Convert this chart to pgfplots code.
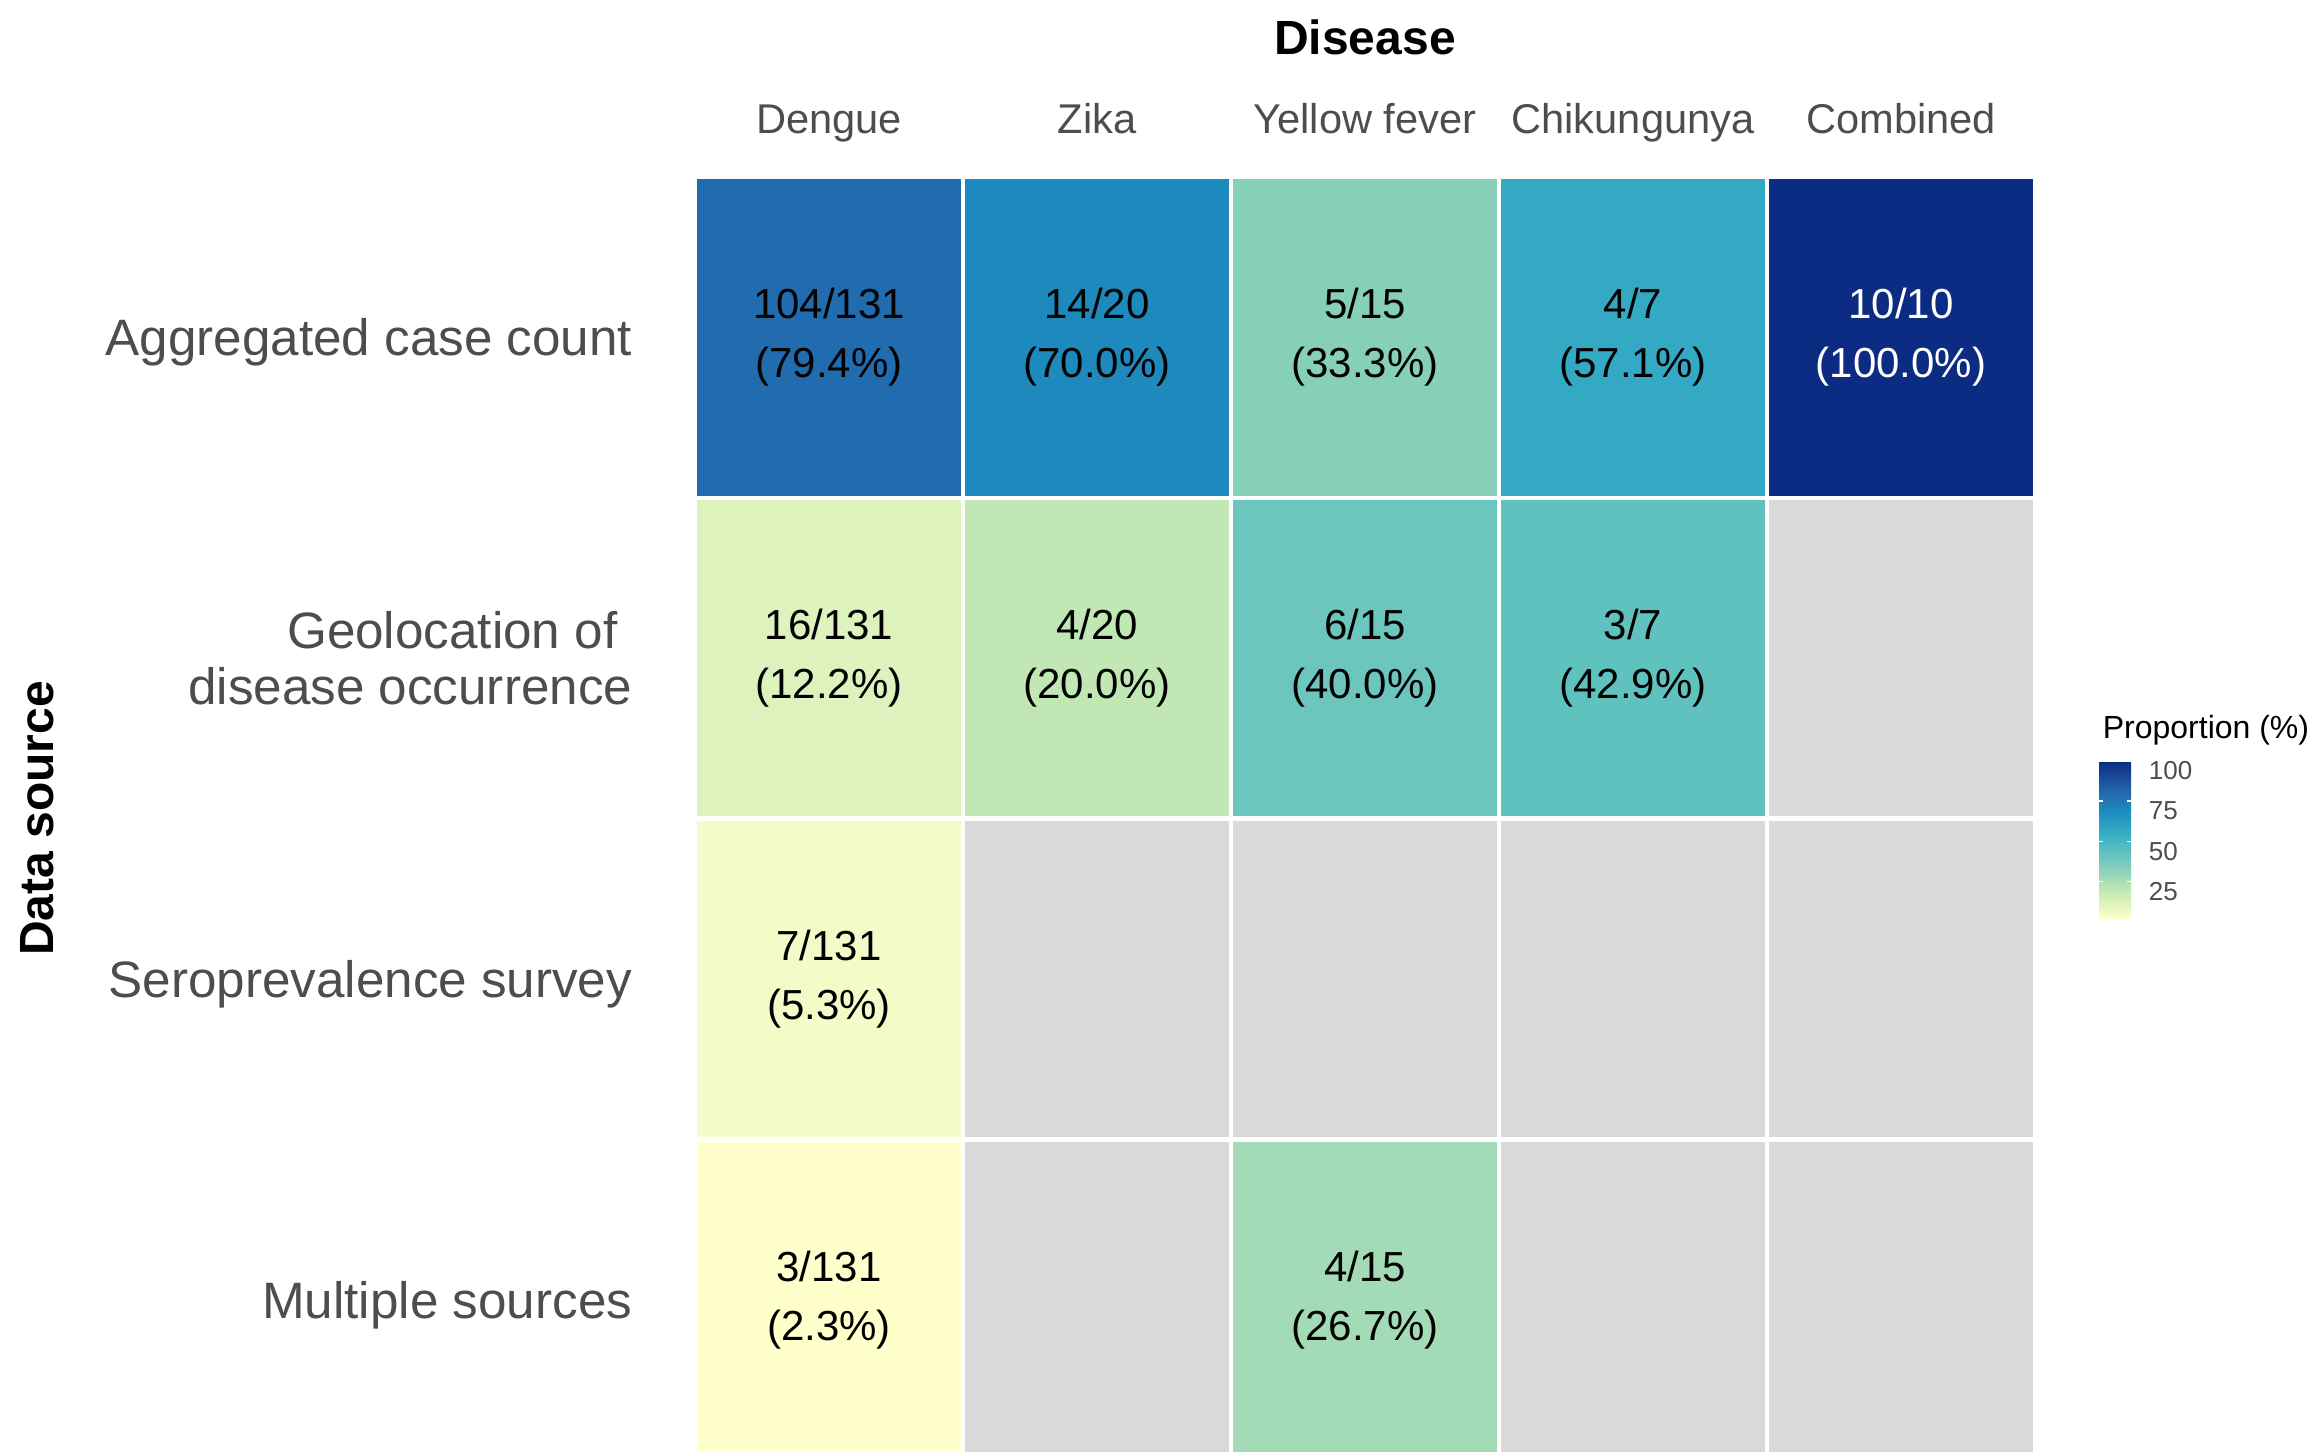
\documentclass[border=0pt]{standalone}
\usepackage{pgfplots}
\usepackage{pgfplotstable}
\pgfplotsset{compat=1.18}
\usepackage{fontspec}
\setmainfont{Liberation Sans}
\definecolor{tilegray}{HTML}{D9D9D9}
\definecolor{labgray}{HTML}{4D4D4D}
\pgfplotsset{colormap={ylgnbu}{rgb255=(255,255,204) rgb255=(199,233,180) rgb255=(127,205,187) rgb255=(65,182,196) rgb255=(29,145,192) rgb255=(34,94,168) rgb255=(12,44,132)}}
% cells: column (1..5), row (1..4, top to bottom), proportion in %
\pgfplotstableread{
x y c
0.5 0.5 79.4
1.5 0.5 79.4
1.5 1.5 79.4
0.5 1.5 79.4
1.5 0.5 70.0
2.5 0.5 70.0
2.5 1.5 70.0
1.5 1.5 70.0
2.5 0.5 33.3
3.5 0.5 33.3
3.5 1.5 33.3
2.5 1.5 33.3
3.5 0.5 57.1
4.5 0.5 57.1
4.5 1.5 57.1
3.5 1.5 57.1
4.5 0.5 100
5.5 0.5 100
5.5 1.5 100
4.5 1.5 100
0.5 1.5 12.2
1.5 1.5 12.2
1.5 2.5 12.2
0.5 2.5 12.2
1.5 1.5 20.0
2.5 1.5 20.0
2.5 2.5 20.0
1.5 2.5 20.0
2.5 1.5 40.0
3.5 1.5 40.0
3.5 2.5 40.0
2.5 2.5 40.0
3.5 1.5 42.9
4.5 1.5 42.9
4.5 2.5 42.9
3.5 2.5 42.9
0.5 2.5 5.3
1.5 2.5 5.3
1.5 3.5 5.3
0.5 3.5 5.3
0.5 3.5 2.3
1.5 3.5 2.3
1.5 4.5 2.3
0.5 4.5 2.3
2.5 3.5 26.7
3.5 3.5 26.7
3.5 4.5 26.7
2.5 4.5 26.7
}\cells
\begin{document}
\begin{tikzpicture}
\begin{axis}[
  name=main,
  at={(0,0)}, anchor=north west,
  scale only axis, width=335pt, height=318.75pt,
  xmin=0.5, xmax=5.5, ymin=0.5, ymax=4.474, y dir=reverse,
  axis background/.style={fill=tilegray},
  axis line style={draw=none},
  tick style={draw=none},
  major tick length=0pt, minor tick length=0pt,
  xtick={1,2,3,4,5},
  xticklabels={Dengue,Zika,Yellow fever,Chikungunya,Combined},
  xticklabel pos=right,
  xticklabel style={font=\fontsize{10.4}{12}\selectfont, text=labgray, anchor=base, inner sep=0pt, yshift=11pt},
  ytick={1,2,3,4},
  yticklabels={Aggregated case count,{Geolocation of\hspace*{3.7pt}\\disease occurrence},Seroprevalence survey,Multiple sources},
  yticklabel style={font=\fontsize{12.8}{14}\selectfont, text=labgray, align=right, anchor=east, inner sep=0pt, text depth=0pt, xshift=-15.5pt},
  minor xtick={0.5,1.5,2.5,3.5,4.5,5.5},
  minor ytick={0.5,1.5,2.5,3.5,4.5},
  xminorgrids, yminorgrids,
  minor grid style={white, line width=1.1pt},
  axis on top,
  colormap name=ylgnbu,
  point meta min=2.3, point meta max=100,
  colorbar shift/.style={},
  colorbar,
  colorbar style={
    scale only axis, width=8pt, height=39.25pt,
    at={(parent axis.north west)}, anchor=north west,
    xshift=351pt, yshift=-146pt,
    axis line style={draw=none},
    ytick={25,50,75,100},
    yticklabel style={font=\fontsize{6.5}{7}\selectfont, text=labgray, inner sep=0pt, xshift=4.25pt, yshift=-2.5pt},
    /pgf/number format/assume math mode=true,
    ytick style={draw=white, line width=0.4pt},
    ytick align=inside,
    major tick length=1.1pt,
    ytick pos=both, yticklabel pos=right,
  },
]
\addplot[patch, patch type=rectangle, shader=flat] table[x=x, y=y, point meta=\thisrow{c}] {\cells};
\begin{scope}[every node/.style={align=center, font=\fontsize{10.5}{14.8}\selectfont, text=black}]
\node at (axis cs:1,1) {104/131\\(79.4\%)};
\node at (axis cs:2,1) {14/20\\(70.0\%)};
\node at (axis cs:3,1) {5/15\\(33.3\%)};
\node at (axis cs:4,1) {4/7\\(57.1\%)};
\node[text=white] at (axis cs:5,1) {10/10\\(100.0\%)};
\node at (axis cs:1,2) {16/131\\(12.2\%)};
\node at (axis cs:2,2) {4/20\\(20.0\%)};
\node at (axis cs:3,2) {6/15\\(40.0\%)};
\node at (axis cs:4,2) {3/7\\(42.9\%)};
\node at (axis cs:1,3) {7/131\\(5.3\%)};
\node at (axis cs:1,4) {3/131\\(2.3\%)};
\node at (axis cs:3,4) {4/15\\(26.7\%)};
\end{scope}
\end{axis}
\node[font=\fontsize{12}{14}\selectfont\bfseries] at ([yshift=35pt]main.north) {Disease};
\node[font=\fontsize{12}{14}\selectfont\bfseries, rotate=90] at ([xshift=-164.5pt,yshift=-160.4pt]main.north west) {Data source};
\node[anchor=west, inner sep=0pt, font=\fontsize{8}{9}\selectfont] at ([xshift=351.75pt,yshift=-138.25pt]main.north west) {Proportion (\%)};
\pgfresetboundingbox
\path[use as bounding box] ([xshift=-173.75pt,yshift=44.25pt]main.north west) rectangle ([xshift=405.75pt,yshift=-318.75pt]main.north west);
\end{tikzpicture}
\end{document}
